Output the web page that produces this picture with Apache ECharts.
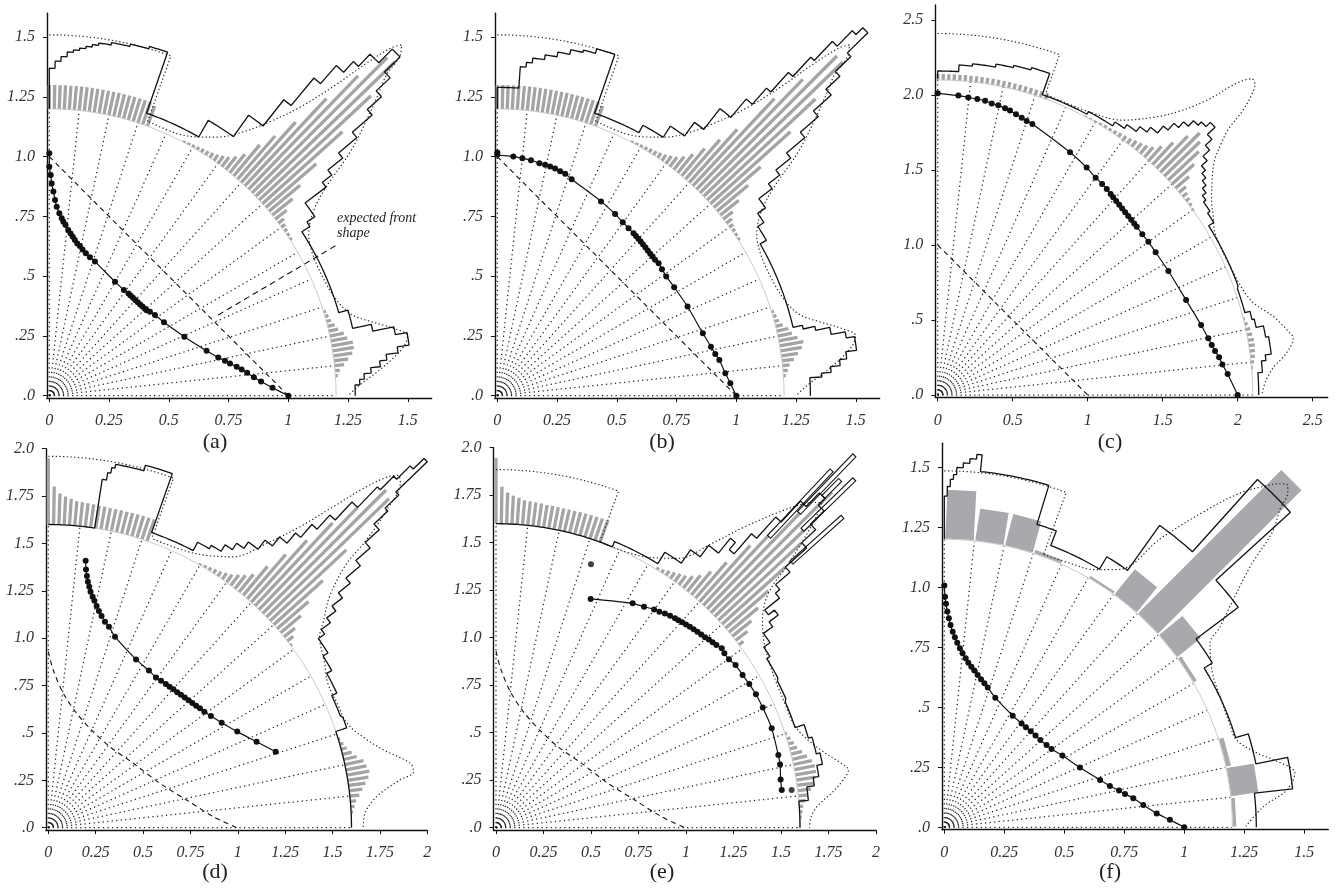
<!DOCTYPE html>
<html><head><meta charset="utf-8">
<script src="https://cdn.jsdelivr.net/npm/echarts/dist/echarts.min.js"></script>
<style>html,body{margin:0;padding:0;background:#fff}#c{width:1343px;height:888px}</style>
</head><body><div id="c"></div>
<script>
// ---------------- data ----------------
const rayDeg = [0,6,12,18,24,30,36,42,48,54,60,66,72,78,84,90];

const xTick16 = ['0','0.25','0.5','0.75','1','1.25','1.5'];
const yTick16 = ['.0','.25','.5','.75','1.0','1.25','1.5'];
const xTick26 = ['0','0.5','1','1.5','2','2.5'];
const yTick26 = ['.0','.5','1.0','1.5','2.0','2.5'];
const xTick20 = ['0','0.25','0.5','0.75','1','1.25','1.5','1.75','2'];
const yTick20 = ['.0','.25','.5','.75','1.0','1.25','1.5','1.75','2.0'];

// gray histogram bars (angle in degrees, length beyond base circle)
const grayDegA = [4,5,6,7,8,9,10,11,12,13,14,15,16,17,
  33,34,35,36,37,38,39,40,41,42,43,44,45,46,47,48,49,50,51,52,53,54,55,56,57,58,59,60,61,62,
  70,71,72,73,74,75,76,77,78,79,80,81,82,83,84,85,86,87,88,89,90];
const grayLenA = [.01,.02,.04,.06,.08,.09,.09,.07,.06,.04,.03,.02,.015,.01,
  .01,.012,.015,.02,.03,.06,.11,.17,.28,.45,.64,.81,.80,.66,.50,.34,.24,.17,.10,.07,.05,.04,.03,.025,.02,.018,.015,.012,.01,.008,
  .09,.10,.10,.10,.10,.10,.10,.10,.10,.10,.10,.10,.10,.10,.10,.10,.10,.10,.10,.10,.10];
const grayDegB = grayDegA;
const grayLenB = [.01,.02,.03,.05,.07,.09,.10,.08,.06,.05,.03,.02,.015,.01,
  .01,.012,.015,.02,.03,.05,.10,.17,.26,.45,.62,.81,.81,.64,.50,.30,.22,.15,.10,.07,.05,.04,.03,.025,.02,.018,.015,.012,.01,.008,
  .09,.10,.10,.10,.10,.10,.10,.10,.10,.10,.10,.10,.10,.10,.10,.10,.10,.10,.10,.10,.10];
const grayDegC = [5,6,7,8,9,10,11,12,13,14,
  36,37,38,39,40,41,42,43,44,45,46,47,48,49,50,51,52,53,54,55,56,57,58,59,60,61,62,
  70,71,72,73,74,75,76,77,78,79,80,81,82,83,84,85,86,87,88,89,90];
const grayLenC = [.01,.02,.03,.035,.04,.04,.035,.03,.02,.01,
  .01,.02,.03,.04,.06,.12,.20,.28,.33,.37,.30,.20,.13,.09,.07,.06,.05,.04,.035,.03,.025,.02,.02,.015,.012,.01,.008,
  .04,.04,.04,.04,.04,.04,.04,.04,.04,.04,.04,.04,.04,.04,.04,.04,.04,.04,.04,.04,.04];
const grayDegD = [3,4,5,6,7,8,9,10,11,12,13,14,15,16,17,
  37,38,39,40,41,42,43,44,45,46,47,48,49,50,51,52,53,54,55,56,57,58,59,60,
  71,72,73,74,75,76,77,78,79,80,81,82,83,84,85,86,87,88,89,90];
const grayLenD = [.01,.02,.03,.05,.07,.09,.11,.12,.11,.10,.07,.05,.03,.02,.01,
  .01,.04,.075,.14,.22,.35,.55,.90,.92,.75,.60,.44,.31,.20,.12,.09,.07,.05,.04,.03,.025,.02,.015,.01,
  .121,.12,.12,.119,.119,.118,.118,.118,.118,.12,.12,.123,.125,.127,.13,.14,.15,.165,.20,.35];
const grayDegE = [2,3,4,5,6,7,8,9,10,11,12,13,14,15,16,17,18,
  37,38,39,40,41,42,43,44,45,46,47,48,49,50,51,52,53,54,55,56,57,58,
  70,71,72,73,74,75,76,77,78,79,80,81,82,83,84,85,86,87,88,89,90];
const grayLenE = [.01,.015,.02,.035,.05,.07,.09,.10,.11,.11,.10,.08,.06,.04,.03,.02,.01,
  .03,.08,.13,.20,.30,.45,.60,.75,.90,.70,.55,.40,.25,.16,.11,.08,.06,.05,.04,.03,.02,.015,
  .121,.121,.12,.12,.119,.119,.118,.118,.118,.118,.12,.12,.123,.125,.127,.13,.14,.15,.165,.195,.345];
// panel (f): wide 6-degree blocks (lower bin edge, length)
const binLoF = [0,6,12,18,24,30,36,42,48,54,60,66,72,78,84];
const grayLenF = [.02,.12,.025,.004,.004,.02,.13,.85,.14,.015,.004,.02,.14,.14,.21];

// black step outlines (bin edges in degrees, radius per bin)
const stepEdgeA = [90,89,88,87,86,85,84,83,82,80,77,74,71,60,54.6,51.6,50.2,49,47.7,46.8,45.3,44,43,42,41,40,39,38,37,34,33,16,12.5,11.3,10,8,7,6,5,4,3,2,0];
const stepRadA = [1.37,1.40,1.42,1.44,1.45,1.46,1.47,1.48,1.49,1.50,1.51,1.52,1.25,1.33,1.44,1.58,1.73,1.83,1.89,1.96,2.04,1.95,1.87,1.79,1.68,1.58,1.50,1.45,1.34,1.30,1.26,1.30,1.38,1.47,1.52,1.47,1.42,1.39,1.35,1.32,1.30,1.28];
const stepEdgeB = [90,86,85,84,82,80,78,76,74,71,61.7,57.3,54.2,52.2,50,48.8,48,47.2,46.6,45.8,45.2,44.4,43.8,43,42,41,40,39,38,37,35,33,30,13,12.3,11.6,10.4,9.4,7.2,6,5,4,3.3,0];
const stepRadB = [1.29,1.38,1.40,1.42,1.44,1.46,1.48,1.49,1.51,1.25,1.285,1.34,1.41,1.52,1.62,1.71,1.82,1.93,2.04,2.13,2.17,2.05,1.96,1.88,1.78,1.68,1.58,1.50,1.44,1.37,1.33,1.30,1.27,1.31,1.36,1.42,1.48,1.515,1.47,1.44,1.40,1.36,1.31];
const stepEdgeC = [90,86.3,84,80,77,74,70.8,62,57,55,53,51.5,50,49,48,47,46,45,44,43,42,41,40,39,38,37,36,34,32,20,15,13.5,12,10,7,6,4,0];
const stepRadC = [2.16,2.205,2.22,2.24,2.255,2.27,2.12,2.14,2.17,2.20,2.24,2.28,2.34,2.40,2.45,2.50,2.53,2.57,2.50,2.44,2.38,2.33,2.30,2.27,2.24,2.21,2.19,2.17,2.13,2.12,2.155,2.17,2.22,2.24,2.20,2.17,2.14];
const stepEdgeD = [90,81.2,80.5,80,79.5,75,70.7,62.4,60,58,56.5,55,53,51.5,50,49,48,47,46,45.5,45,44.5,44,43.5,43,42,41,40,39,38,37,36,35,32,29,25,21,18.5,0];
const stepRadD = [1.60,1.86,1.90,1.93,1.95,1.98,1.65,1.70,1.72,1.76,1.80,1.84,1.90,1.96,2.03,2.12,2.22,2.35,2.5,2.6,2.7,2.78,2.55,2.45,2.35,2.25,2.15,2.05,1.97,1.90,1.84,1.78,1.74,1.71,1.68,1.65,1.66,1.60];
const stepEdgeE = [90,67.5,58.5,55,53,51,50,49,48,47,46,45,44,43,42,41,40,39,38,37,36,34,32,28,24,18.5,16,13,11,9,7.5,5,0];
const stepRadE = [1.60,1.63,1.70,1.785,1.86,1.96,1.91,2.05,2.2,2.35,2.45,2.4,2.3,2.2,2.05,1.95,1.92,1.82,1.86,1.80,1.74,1.70,1.68,1.67,1.66,1.71,1.73,1.75,1.72,1.69,1.65,1.60];
const stepEdgeF = [90,89.5,89,88.5,88,87,86,85,84.2,73,69.3,59,54.5,48,42.3,36.8,31.5,17.1,11.5,6.3,0];
const stepRadF = [1.38,1.42,1.45,1.47,1.50,1.52,1.54,1.56,1.49,1.32,1.255,1.315,1.545,1.95,1.53,1.31,1.27,1.325,1.46,1.30];

// open (outlined) bars in panel (e): angle, inner radius, outer radius
const openDegE = [46.8,46.1,45.3,44.2,41.9];
const openR1E = [2.10,2.30,2.45,2.25,2.09];
const openR2E = [2.58,2.72,2.575,2.63,2.45];

// dotted density curves: top part [radius, end angle, inner radius], lobe (angle, radius)
const densTopAB = [1.51, 70.3, 1.22];
const densDegAB = [70,64,60,57,54,51.4,49,47.4,46.3,45.5,44.9,44.2,43.6,42.4,41,39,37,35,32,28,22,18,15,13,11,9.5,8,6,4,2,0];
const densRAB = [1.22,1.22,1.25,1.29,1.36,1.46,1.60,1.76,1.93,2.04,2.08,2.05,1.95,1.86,1.76,1.62,1.45,1.35,1.28,1.25,1.25,1.27,1.31,1.38,1.47,1.52,1.50,1.44,1.37,1.30,1.25];
const densTopC = [2.41, 70.3, 2.13];
const densDegC = [70,62,56,51.8,49.5,47.6,46.2,45.2,44.4,43.6,43.0,42.4,41.5,40.3,38.5,35.4,33,30.2,23.7,16.9,13.1,10.5,9.1,6.8,4.8,2.5,0];
const densRC = [2.13,2.14,2.21,2.36,2.49,2.66,2.88,2.97,2.96,2.88,2.78,2.62,2.52,2.42,2.34,2.24,2.19,2.14,2.13,2.18,2.30,2.37,2.40,2.34,2.25,2.19,2.16];
const densTopD = [1.96, 70.3, 1.62];
const densDegD = [70,62,55.7,52.5,50.1,48.4,47,45.9,45.2,44.4,43.2,42.1,41.5,39.4,37,35.1,31,27.3,23,19.3,16,13.1,10.1,8.7,7.7,5.4,2.6,0];
const densRD = [1.62,1.64,1.73,1.89,2.07,2.265,2.46,2.58,2.62,2.60,2.45,2.26,2.10,1.92,1.82,1.75,1.70,1.66,1.66,1.67,1.73,1.815,1.94,1.95,1.87,1.74,1.673,1.662];
const densTopE = [1.885, 70, 1.60];
const densDegE = [70,62,55.9,52.8,50.4,48,46.5,45.5,44.9,44,43,42,40.7,38,35,31,27,23,19,16,13,10.5,9.3,8,6,4,2,0];
const densRE = [1.60,1.62,1.712,1.878,2.056,2.24,2.35,2.40,2.42,2.33,2.2,2.06,1.89,1.78,1.72,1.68,1.66,1.655,1.66,1.70,1.77,1.85,1.88,1.85,1.78,1.70,1.66,1.65];
const densTopF = [1.485, 70, 1.21];
const densDegF = [70,64,60,57,55.3,53.2,50.4,48.5,46.8,45.7,44.9,44.3,43.5,42,40.5,38,36,34.7,30,25.3,20,16.6,13,11.6,8.8,6.2,3.7,0];
const densRF = [1.21,1.22,1.24,1.28,1.31,1.50,1.716,1.859,1.95,2.0,2.02,2.00,1.93,1.84,1.68,1.52,1.42,1.347,1.29,1.271,1.265,1.271,1.35,1.40,1.478,1.435,1.332,1.253];

// fronts (points)
const frontAX = [0,0,0.006,0.01,0.017,0.024,0.031,0.042,0.052,0.059,0.068,0.079,0.089,0.098,0.107,0.117,0.128,0.139,0.153,0.17,0.191,0.275,0.312,0.331,0.34,0.35,0.36,0.37,0.38,0.39,0.40,0.407,0.421,0.442,0.48,0.565,0.658,0.707,0.735,0.756,0.784,0.805,0.828,0.856,0.886,0.934,1.0];
const frontAY = [1.014,0.958,0.923,0.888,0.854,0.819,0.791,0.763,0.742,0.728,0.714,0.693,0.679,0.665,0.651,0.637,0.626,0.612,0.596,0.579,0.561,0.477,0.442,0.428,0.419,0.41,0.40,0.391,0.382,0.373,0.364,0.358,0.351,0.338,0.307,0.247,0.188,0.16,0.146,0.135,0.121,0.11,0.096,0.077,0.059,0.033,0.0];
const frontBX = [0,0,0.067,0.105,0.141,0.176,0.2,0.221,0.242,0.263,0.284,0.311,0.434,0.493,0.525,0.549,0.57,0.58,0.59,0.60,0.61,0.62,0.63,0.64,0.65,0.66,0.675,0.689,0.707,0.74,0.796,0.86,0.894,0.912,0.929,0.954,0.975,1.0];
const frontBY = [1.018,1.008,1.001,0.993,0.985,0.973,0.966,0.959,0.951,0.939,0.929,0.906,0.813,0.76,0.726,0.701,0.68,0.668,0.657,0.645,0.633,0.62,0.607,0.594,0.582,0.569,0.554,0.529,0.499,0.454,0.373,0.261,0.205,0.175,0.149,0.094,0.052,0.0];
const frontCX = [0,0.138,0.204,0.264,0.316,0.36,0.404,0.449,0.482,0.522,0.56,0.593,0.631,0.882,0.993,1.053,1.096,1.127,1.153,1.17,1.19,1.21,1.23,1.25,1.27,1.29,1.31,1.327,1.364,1.404,1.453,1.538,1.656,1.756,1.804,1.827,1.849,1.876,1.898,1.933,2.0];
const frontCY = [2.011,1.996,1.984,1.973,1.962,1.944,1.931,1.911,1.896,1.871,1.849,1.827,1.807,1.618,1.516,1.449,1.407,1.373,1.34,1.319,1.294,1.269,1.244,1.219,1.193,1.168,1.143,1.122,1.071,1.022,0.951,0.827,0.633,0.467,0.378,0.333,0.293,0.251,0.204,0.14,0];
const frontDX = [0.197,0.199,0.204,0.209,0.216,0.223,0.234,0.243,0.255,0.267,0.281,0.299,0.32,0.352,0.463,0.531,0.568,0.595,0.62,0.64,0.66,0.68,0.70,0.72,0.74,0.76,0.78,0.8,0.823,0.858,0.915,0.997,1.099,1.2];
const frontDY = [1.409,1.363,1.328,1.298,1.272,1.245,1.219,1.198,1.17,1.143,1.117,1.087,1.061,1.008,0.888,0.829,0.793,0.776,0.758,0.744,0.73,0.715,0.701,0.687,0.673,0.658,0.644,0.63,0.612,0.589,0.554,0.507,0.454,0.401];
const frontEX = [0.498,0.719,0.779,0.832,0.86,0.889,0.916,0.942,0.96,0.98,1.0,1.02,1.04,1.06,1.08,1.10,1.12,1.14,1.16,1.188,1.202,1.226,1.261,1.298,1.333,1.368,1.404,1.451,1.486,1.495,1.498,1.504];
const frontEY = [1.204,1.181,1.163,1.149,1.137,1.128,1.116,1.102,1.092,1.081,1.069,1.057,1.044,1.031,1.017,1.003,0.99,0.976,0.962,0.944,0.918,0.886,0.856,0.804,0.756,0.702,0.632,0.523,0.382,0.333,0.254,0.198];
const isoEX = [0.5, 1.556];
const isoEY = [1.386, 0.198];
const frontFX = [0,0.003,0.007,0.0125,0.019,0.026,0.035,0.044,0.054,0.065,0.076,0.089,0.1,0.1125,0.125,0.139,0.153,0.167,0.181,0.2125,0.285,0.322,0.34,0.36,0.38,0.40,0.426,0.447,0.492,0.565,0.649,0.69,0.728,0.753,0.7875,0.829,0.885,0.94,1.0];
const frontFY = [1.007,0.961,0.931,0.899,0.871,0.843,0.815,0.792,0.769,0.746,0.725,0.704,0.686,0.669,0.653,0.635,0.617,0.6,0.583,0.54,0.465,0.433,0.417,0.4,0.383,0.364,0.343,0.326,0.299,0.249,0.197,0.172,0.153,0.139,0.121,0.093,0.058,0.031,0];

// dashed reference shapes
const dashLinX = [0, 1];
const dashLinY = [1, 0];
const dashCurX = [0,0.026,0.079,0.15,0.229,0.325,0.449,0.589,0.73,0.871,0.994];
const dashCurY = [0.929,0.832,0.709,0.603,0.515,0.427,0.34,0.234,0.146,0.058,0];
const pointerAX = [0.707, 1.202];
const pointerAY = [0.338, 0.63];

// ---------------- helpers ----------------
const D2R = Math.PI / 180;
function pol(r, d) { return [r * Math.cos(d * D2R), r * Math.sin(d * D2R)]; }
function arc(r, a1, a2) {
  const n = Math.max(1, Math.ceil(Math.abs(a2 - a1) / 0.5));
  const out = [];
  for (let i = 0; i <= n; i++) out.push(pol(r, a1 + (a2 - a1) * i / n));
  return out;
}
function stepPath(edges, radii, rStart) {
  let pts = [pol(rStart, edges[0])];
  for (let i = 0; i < radii.length; i++) pts = pts.concat(arc(radii[i], edges[i], edges[i + 1]));
  return pts;
}
function zip(xs, ys) { return xs.map((x, i) => [x, ys[i]]); }

const FONT = '"Liberation Serif","DejaVu Serif",serif';
const P = 2.4;

const panels = [
  {ox:49.3, oy:395.7, s:239, xmax:1.6, ymax:1.6, R0:1.2, xt:xTick16, yt:yTick16, gd:grayDegA, gl:grayLenA, se:stepEdgeA, sr:stepRadA, ss:1.2, dt:densTopAB, dd:densDegAB, dr:densRAB, fx:frontAX, fy:frontAY, kx:dashLinX, ky:dashLinY, lab:'(a)', lx:215, ly:442},
  {ox:497.3, oy:395.7, s:239, xmax:1.6, ymax:1.6, R0:1.2, xt:xTick16, yt:yTick16, gd:grayDegB, gl:grayLenB, se:stepEdgeB, sr:stepRadB, ss:1.2, dt:densTopAB, dd:densDegAB, dr:densRAB, fx:frontBX, fy:frontBY, kx:dashLinX, ky:dashLinY, lab:'(b)', lx:662, ly:442},
  {ox:937.7, oy:395, s:150, xmax:2.6, ymax:2.6, R0:2.1, xt:xTick26, yt:yTick26, gd:grayDegC, gl:grayLenC, se:stepEdgeC, sr:stepRadC, ss:2.11, dt:densTopC, dd:densDegC, dr:densRC, fx:frontCX, fy:frontCY, kx:dashLinX, ky:dashLinY, lab:'(c)', lx:1110, ly:442},
  {ox:48.3, oy:827.7, s:189.5, xmax:2, ymax:2, R0:1.6, xt:xTick20, yt:yTick20, gd:grayDegD, gl:grayLenD, se:stepEdgeD, sr:stepRadD, ss:1.6, dt:densTopD, dd:densDegD, dr:densRD, fx:frontDX, fy:frontDY, kx:dashCurX, ky:dashCurY, lab:'(d)', lx:215, ly:872},
  {ox:496, oy:827.7, s:190, xmax:2, ymax:2, R0:1.6, xt:xTick20, yt:yTick20, gd:grayDegE, gl:grayLenE, se:stepEdgeE, sr:stepRadE, ss:1.6, dt:densTopE, dd:densDegE, dr:densRE, fx:frontEX, fy:frontEY, kx:dashCurX, ky:dashCurY, lab:'(e)', lx:662, ly:872},
  {ox:944.3, oy:827.3, s:240, xmax:1.6, ymax:1.6, R0:1.2, xt:xTick16, yt:yTick16, gd:null, gl:grayLenF, se:stepEdgeF, sr:stepRadF, ss:1.2, dt:densTopF, dd:densDegF, dr:densRF, fx:frontFX, fy:frontFY, kx:null, ky:null, lab:'(f)', lx:1110, ly:872}
];

function axisCommon(labels, margin) {
  const vals = labels.map(parseFloat);
  return {
    type: 'value',
    axisLine: {show: true, onZero: false, lineStyle: {color: '#111', width: 1.4}},
    axisTick: {show: true, inside: false, length: 4, customValues: vals, lineStyle: {color: '#111', width: 1}},
    axisLabel: {customValues: vals, margin: margin, fontFamily: FONT, fontStyle: 'italic', fontSize: 16, color: '#333',
      formatter: v => { const k = vals.findIndex(u => Math.abs(u - v) < 1e-6); return k < 0 ? '' : labels[k]; }},
    splitLine: {show: false}
  };
}

const grids = [], xAxes = [], yAxes = [], series = [], gfx = [];
function lineRender(color, width, dash) {
  return function (params, api) {
    const a = api.coord([api.value(0), api.value(1)]), b = api.coord([api.value(2), api.value(3)]);
    const st = {stroke: color, lineWidth: width, lineCap: 'butt'};
    if (dash) st.lineDash = dash;
    return {type: 'line', shape: {x1: a[0], y1: a[1], x2: b[0], y2: b[1]}, style: st};
  };
}
function polyRender(fill, stroke, w) {
  return function (params, api) {
    const pts = [0, 1, 2, 3].map(k => api.coord([api.value(2 * k), api.value(2 * k + 1)]));
    return {type: 'polygon', shape: {points: pts}, style: {fill: fill, stroke: stroke, lineWidth: w}};
  };
}

panels.forEach((p, i) => {
  grids.push({left: p.ox - P, top: p.oy - p.ymax * p.s, width: p.xmax * p.s + P, height: p.ymax * p.s + P, containLabel: false, outerBoundsMode: 'none'});
  xAxes.push(Object.assign(axisCommon(p.xt, 15), {gridIndex: i, min: -P / p.s, max: p.xmax}));
  yAxes.push(Object.assign(axisCommon(p.yt, 12), {gridIndex: i, min: -P / p.s, max: p.ymax}));
  const ax = {xAxisIndex: i, yAxisIndex: i};
  // rays
  series.push(Object.assign({type: 'custom', silent: true, encode: {x: [0, 2], y: [1, 3]},
    data: rayDeg.map(d => [0, 0].concat(pol(p.R0, d))), renderItem: lineRender('#222', 1.25, [1.25, 3.3])}, ax));
  // base circle
  series.push(Object.assign({type: 'line', silent: true, showSymbol: false, symbol: 'none', data: arc(p.R0, 0, 90),
    lineStyle: {color: '#c8c8c8', width: 1}}, ax));
  // gray histogram
  if (p.gd) {
    series.push(Object.assign({type: 'custom', silent: true, encode: {x: [0, 2], y: [1, 3]},
      data: p.gd.map((d, k) => pol(p.R0, d).concat(pol(p.R0 + p.gl[k], d))),
      renderItem: lineRender('#a4a4a4', 3.3, null)}, ax));
  } else {
    series.push(Object.assign({type: 'custom', silent: true, encode: {x: [0, 2, 4, 6], y: [1, 3, 5, 7]},
      data: binLoF.map((lo, k) => {
        const hi = lo + 6, c = lo + 3, L = p.gl[k];
        const b1 = pol(p.R0, lo), b2 = pol(p.R0, hi), u = [Math.cos(c * D2R), Math.sin(c * D2R)];
        return [b1[0], b1[1], b2[0], b2[1], b2[0] + u[0] * L, b2[1] + u[1] * L, b1[0] + u[0] * L, b1[1] + u[1] * L];
      }),
      renderItem: polyRender('#a7a9ac', '#ffffff', 1.4)}, ax));
  }
  // density (dotted)
  const topPts = arc(p.dt[0], 90, p.dt[1]).concat([pol(p.dt[2], p.dt[1])]);
  series.push(Object.assign({type: 'line', silent: true, showSymbol: false, symbol: 'none', data: topPts,
    lineStyle: {color: '#222', width: 1.15, type: [1.3, 2.4]}}, ax));
  series.push(Object.assign({type: 'line', silent: true, showSymbol: false, symbol: 'none', smooth: 0.35,
    data: p.dd.map((d, k) => pol(p.dr[k], d)), lineStyle: {color: '#222', width: 1.15, type: [1.3, 2.4]}}, ax));
  // step outline
  series.push(Object.assign({type: 'line', silent: true, showSymbol: false, symbol: 'none',
    data: stepPath(p.se, p.sr, p.ss), lineStyle: {color: '#111', width: 1.3}}, ax));
  // open bars (e)
  if (i === 4) {
    const w = 0.011;
    series.push(Object.assign({type: 'custom', silent: true, encode: {x: [0, 2, 4, 6], y: [1, 3, 5, 7]},
      data: openDegE.map((d, k) => {
        const a = pol(openR1E[k], d), b = pol(openR2E[k], d), n = [-Math.sin(d * D2R) * w, Math.cos(d * D2R) * w];
        return [a[0] + n[0], a[1] + n[1], b[0] + n[0], b[1] + n[1], b[0] - n[0], b[1] - n[1], a[0] - n[0], a[1] - n[1]];
      }),
      renderItem: polyRender('#ffffff', '#111', 1.1)}, ax));
  }
  // dashed reference
  if (p.kx) {
    series.push(Object.assign({type: 'line', silent: true, showSymbol: false, symbol: 'none', smooth: p.kx.length > 2 ? 0.3 : false,
      data: zip(p.kx, p.ky), lineStyle: {color: '#111', width: 1.1, type: [5, 4]}}, ax));
  }
  if (i === 0) {
    series.push(Object.assign({type: 'line', silent: true, showSymbol: false, symbol: 'none',
      data: zip(pointerAX, pointerAY), lineStyle: {color: '#111', width: 1.1, type: [6, 4]}}, ax));
  }
  // front
  series.push(Object.assign({type: 'line', silent: true, smooth: 0.2, symbol: 'circle', symbolSize: 6, showSymbol: true,
    data: zip(p.fx, p.fy), itemStyle: {color: '#111'}, lineStyle: {color: '#111', width: 1.2}}, ax));
  if (i === 4) {
    series.push(Object.assign({type: 'scatter', silent: true, symbol: 'circle', symbolSize: 6,
      data: zip(isoEX, isoEY), itemStyle: {color: '#111'}}, ax));
  }
  gfx.push({type: 'text', x: p.lx, y: p.ly, style: {text: p.lab, font: '22px ' + FONT, fill: '#222',
    align: 'center', verticalAlign: 'middle', textAlign: 'center', textVerticalAlign: 'middle'}});
});

gfx.push({type: 'text', x: 337, y: 218, style: {text: 'expected front', font: 'italic 14px ' + FONT, fill: '#222',
  align: 'left', verticalAlign: 'middle', textAlign: 'left', textVerticalAlign: 'middle'}});
gfx.push({type: 'text', x: 337, y: 233, style: {text: 'shape', font: 'italic 14px ' + FONT, fill: '#222',
  align: 'left', verticalAlign: 'middle', textAlign: 'left', textVerticalAlign: 'middle'}});

const chart = echarts.init(document.getElementById('c'), null, {renderer: 'canvas'});
chart.setOption({
  animation: false,
  backgroundColor: '#ffffff',
  grid: grids, xAxis: xAxes, yAxis: yAxes, series: series,
  graphic: {elements: gfx}
});
</script></body></html>
